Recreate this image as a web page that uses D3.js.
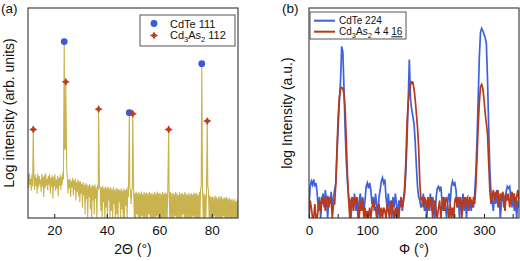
<!DOCTYPE html>
<html>
<head>
<meta charset="utf-8">
<script src="https://cdn.jsdelivr.net/npm/d3@7"></script>
<style>
  body { margin: 0; background: #fff; }
  text { font-family: "Liberation Sans", Arial, sans-serif; fill: #111; }
</style>
</head>
<body>
<svg id="chart" width="520" height="261"></svg>
<script>
// ---- (a) XRD 2theta scan, log intensity (arb. units) ----
const twoThetaStart = 10, twoThetaStep = 0.25;
const xrdBackground = [
  1.22, 0.85, 1.28, 0.95, 1.12, 0.78, 1.25, 0.90, 1.00, 1.18,   // 10.00 - 12.25
  0.80, 1.24, 0.92, 1.15, 0.70, 1.27, 0.88, 1.20, 0.95, 1.10,   // 12.50 - 14.75
  0.75, 1.26, 0.90, 1.18, 0.60, 1.22, 0.85, 1.28, 0.92, 1.12,   // 15.00 - 17.25
  0.80, 1.20, 0.95, 1.25, 0.70, 1.15, 0.88, 1.22, 0.55, 1.18,   // 17.50 - 19.75
  0.90, 1.25, 0.78, 1.10, 0.85, 1.20, 0.62, 1.15, 0.92, 1.24,   // 20.00 - 22.25
  0.80, 1.18, 0.95, 1.30, 1.10, 1.50, 1.95, 2.00, 1.70, 1.45,   // 22.50 - 24.75
  1.15, 0.70, 1.10, 0.85, 1.12, 0.60, 1.05, 0.88, 1.14, 0.65,   // 25.00 - 27.25
  1.08, 0.80, 1.12, 0.50, 1.02, 0.75, 1.10, 0.62, 1.05, 0.45,   // 27.50 - 29.75
  1.04, 0.70, 0.98, 0.30, 1.02, 0.65, 0.95, 0.10, 1.00, 0.55,   // 30.00 - 32.25
  0.96, 0.00, 0.92, 0.60, 0.98, 0.25, 0.90, 0.00, 0.95, 0.50,   // 32.50 - 34.75
  0.92, 0.10, 0.96, 0.55, 0.88, 0.00, 0.95, 0.80, 1.00, 0.85,   // 35.00 - 37.25
  0.90, 0.20, 0.88, 0.00, 0.92, 0.45, 0.85, 0.00, 0.90, 0.30,   // 37.50 - 39.75
  0.86, 0.00, 0.90, 0.50, 0.84, 0.00, 0.88, 0.20, 0.82, 0.00,   // 40.00 - 42.25
  0.88, 0.40, 0.80, 0.00, 0.86, 0.10, 0.84, 0.00, 0.82, 0.45,   // 42.50 - 44.75
  0.80, 0.00, 0.85, 0.25, 0.78, 0.00, 0.84, 0.00, 0.80, 0.35,   // 45.00 - 47.25
  0.82, 0.00, 0.88, 0.60, 0.95, 0.90, 0.80, 0.40, 0.78, 0.85,   // 47.50 - 49.75
  0.90, 0.80, 0.00, 0.72, 0.00, 0.75, 0.10, 0.70, 0.00, 0.74,   // 50.00 - 52.25
  0.00, 0.70, 0.00, 0.76, 0.05, 0.68, 0.00, 0.74, 0.00, 0.71,   // 52.50 - 54.75
  0.00, 0.73, 0.00, 0.69, 0.10, 0.75, 0.00, 0.70, 0.00, 0.72,   // 55.00 - 57.25
  0.00, 0.68, 0.00, 0.74, 0.00, 0.70, 0.05, 0.76, 0.00, 0.70,   // 57.50 - 59.75
  0.00, 0.72, 0.00, 0.68, 0.00, 0.74, 0.00, 0.70, 0.00, 0.73,   // 60.00 - 62.25
  0.00, 0.70, 0.00, 0.80, 0.85, 0.80, 0.00, 0.74, 0.00, 0.70,   // 62.50 - 64.75
  0.00, 0.72, 0.00, 0.68, 0.05, 0.74, 0.00, 0.70, 0.00, 0.66,   // 65.00 - 67.25
  0.00, 0.73, 0.00, 0.69, 0.00, 0.72, 0.10, 0.67, 0.00, 0.74,   // 67.50 - 69.75
  0.00, 0.70, 0.00, 0.66, 0.00, 0.72, 0.00, 0.68, 0.00, 0.71,   // 70.00 - 72.25
  0.00, 0.67, 0.05, 0.73, 0.00, 0.69, 0.00, 0.72, 0.00, 0.66,   // 72.50 - 74.75
  0.00, 0.74, 0.00, 0.85, 0.90, 0.95, 0.80, 0.00, 0.70, 0.00,   // 75.00 - 77.25
  0.66, 0.00, 0.75, 0.80, 0.90, 0.78, 0.00, 0.64, 0.00, 0.60,   // 77.50 - 79.75
  0.00, 0.62, 0.00, 0.58, 0.05, 0.64, 0.00, 0.60, 0.00, 0.56,   // 80.00 - 82.25
  0.00, 0.63, 0.00, 0.59, 0.00, 0.62, 0.00, 0.55, 0.05, 0.60,   // 82.50 - 84.75
  0.00, 0.57, 0.00, 0.61, 0.00, 0.54, 0.00, 0.58, 0.00, 0.52,   // 85.00 - 87.25
  0.00, 0.56, 0.00, 0.50, 0.00, 0.55, 0.00, 0.48, 0.00, 0.52,   // 87.50 - 89.75
  0.00                                                          // 90.00
];
const xrdPeaks = [[12.0, 2.53], [23.8, 5.04], [24.4, 3.89], [36.9, 3.11], [48.6, 3.01],
                  [49.9, 2.98], [63.6, 2.53], [76.2, 4.41], [78.3, 2.77]];
const cdteMarks = [[23.8, 5.04], [48.6, 3.01], [76.2, 4.41]];
const cd3as2Marks = [[12.0, 2.53], [24.4, 3.89], [36.9, 3.11], [49.9, 2.98], [63.6, 2.53], [78.3, 2.77]];
const twoThetaTicks = [20, 40, 60, 80];

// ---- (b) phi scans, log intensity (a.u.) ----
const phiStart = 0, phiStep = 2;
const phiCdTe = [
  0.3, 0.9, 1.05, 0.95, 1.1, 0.9, 1.0, 0.7, 0.2, 0.6,       // 0 - 18
  0.0, 0.5, 0.7, 0.3, 0.8, 0.5, 0.0, 0.6, 0.4, 0.75,        // 20 - 38
  0.2, 0.6, 0.8, 1.0, 1.8, 2.6, 3.3, 3.9, 4.9, 4.75,        // 40 - 58
  3.7, 2.5, 1.6, 1.0, 0.6, 0.5, 0.0, 0.6, 0.3, 0.7,         // 60 - 78
  0.2, 0.6, 0.0, 0.5, 0.7, 0.3, 0.6, 0.2, 0.5, 0.9,         // 80 - 98
  1.0, 0.85, 1.0, 0.8, 0.4, 0.6, 0.2, 0.7, 0.4, 0.0,        // 100 - 118
  0.6, 0.8, 1.05, 1.15, 1.0, 1.1, 0.6, 0.3, 0.7, 0.2,       // 120 - 138
  0.5, 0.0, 0.6, 0.3, 0.7, 0.4, 0.0, 0.5, 0.3, 0.6,         // 140 - 158
  0.2, 0.5, 0.7, 1.3, 2.2, 3.3, 4.53, 3.4, 3.1, 2.9,        // 160 - 178
  2.7, 2.2, 1.5, 0.9, 0.6, 0.5, 0.3, 0.4, 0.7, 0.2,         // 180 - 198
  0.5, 0.0, 0.6, 0.3, 0.7, 0.2, 0.6, 0.4, 0.0, 0.6,         // 200 - 218
  0.85, 0.9, 0.8, 0.9, 0.5, 0.2, 0.6, 0.3, 0.0, 0.5,        // 220 - 238
  0.7, 0.4, 0.9, 1.05, 0.95, 1.0, 0.8, 0.3, 0.6, 0.0,       // 240 - 258
  0.5, 0.3, 0.7, 0.2, 0.6, 0.0, 0.5, 0.3, 0.6, 0.2,         // 260 - 278
  0.5, 0.3, 0.7, 1.3, 2.2, 3.4, 4.6, 5.3, 5.42, 5.35,       // 280 - 298
  5.25, 5.15, 5.0, 4.0, 2.6, 1.4, 0.7, 0.5, 0.2, 0.7,       // 300 - 318
  0.4, 0.8, 0.3, 0.6, 0.0, 0.5, 0.7, 0.3, 0.6, 0.75,        // 320 - 338
  0.9, 0.85, 0.9, 0.6, 0.3, 0.7, 0.2, 0.6, 0.0, 0.5,        // 340 - 358
  0.3                                                       // 360
];
const phiCd3As2 = [
  0.0, 0.5, 0.3, 0.0, 0.0, 0.4, 0.0, 0.0, 0.3, 0.5,         // 0 - 18
  0.2, 0.6, 0.4, 0.6, 0.2, 0.55, 0.6, 0.3, 0.6, 0.5,        // 20 - 38
  0.0, 0.4, 0.4, 1.0, 2.0, 2.9, 3.45, 3.68, 3.73, 3.7,      // 40 - 58
  3.55, 3.1, 2.2, 1.2, 0.5, 0.0, 0.5, 0.6, 0.2, 0.6,        // 60 - 78
  0.4, 0.6, 0.3, 0.0, 0.5, 0.2, 0.55, 0.0, 0.3, 0.0,        // 80 - 98
  0.2, 0.0, 0.3, 0.0, 0.3, 0.5, 0.3, 0.3, 0.0, 0.3,         // 100 - 118
  0.4, 0.0, 0.3, 0.0, 0.3, 0.2, 0.0, 0.4, 0.2, 0.0,         // 120 - 138
  0.3, 0.5, 0.2, 0.0, 0.3, 0.0, 0.3, 0.0, 0.4, 0.6,         // 140 - 158
  0.3, 0.5, 0.9, 1.6, 2.7, 3.3, 3.6, 3.8, 3.89, 3.88,       // 160 - 178
  3.7, 3.4, 3.0, 2.6, 2.0, 1.0, 0.5, 0.6, 0.3, 0.6,         // 180 - 198
  0.5, 0.3, 0.6, 0.2, 0.5, 0.6, 0.0, 0.3, 0.5, 0.2,         // 200 - 218
  0.0, 0.3, 0.5, 0.0, 0.4, 0.6, 0.2, 0.5, 0.6, 0.3,         // 220 - 238
  0.0, 0.4, 0.0, 0.3, 0.0, 0.5, 0.6, 0.3, 0.6, 0.4,         // 240 - 258
  0.6, 0.0, 0.5, 0.6, 0.3, 0.55, 0.6, 0.2, 0.6, 0.5,        // 260 - 278
  0.3, 0.6, 0.4, 0.9, 1.7, 2.6, 3.3, 3.75, 3.82, 3.7,       // 280 - 298
  3.4, 3.0, 2.7, 2.4, 1.6, 0.8, 0.4, 0.6, 0.8, 0.5,         // 300 - 318
  0.75, 0.6, 0.8, 0.3, 0.7, 0.5, 0.75, 0.6, 0.2, 0.7,       // 320 - 338
  0.5, 0.7, 0.3, 0.6, 0.75, 0.5, 0.7, 0.3, 0.6, 0.8,        // 340 - 358
  0.5                                                       // 360
];
const phiTicks = [0, 100, 200, 300];
const phiMinorTicks = [50, 150, 250, 350];

const colXrd = "#c8b34e", colCdTe = "#3d62db", colCd3As2 = "#b63a1b";
const colDot = "#3a5ad8", colStar = "#bf3d1f";

const svg = d3.select("#chart");

// 4-pointed star used for the Cd3As2 reflections
const symbolStar4 = {
  draw(ctx, size) {
    const R = Math.sqrt(size) * 0.75, r = R * 0.5;
    for (let k = 0; k < 8; k++) {
      const a = k * Math.PI / 4 - Math.PI / 2, rad = k % 2 ? r : R;
      const x = Math.cos(a) * rad, y = Math.sin(a) * rad;
      k ? ctx.lineTo(x, y) : ctx.moveTo(x, y);
    }
    ctx.closePath();
  }
};

function addSub(textSel, parts) {
  // parts: [string, isSubscript]
  parts.forEach(([s, sub]) => {
    const t = textSel.append("tspan").text(s);
    if (sub) t.style("font-size", "7.5px").attr("dy", 3);
    else if (textSel.node().childNodes.length > 1) t.attr("dy", -3);
  });
}

function panel(x, y, id) {
  const [x0, x1] = x.range(), [y0, y1] = y.range();
  svg.append("clipPath").attr("id", id)
    .append("rect").attr("x", x0).attr("y", y1).attr("width", x1 - x0).attr("height", y0 - y1);
  return svg.append("g").attr("clip-path", `url(#${id})`);
}

function frame(x, y) {
  const [x0, x1] = x.range(), [y0, y1] = y.range();
  svg.append("rect").attr("x", x0).attr("y", y1).attr("width", x1 - x0).attr("height", y0 - y1)
    .attr("fill", "none").attr("stroke", "#333").attr("stroke-width", 1.1);
}

function bottomAxis(x, y, ticks) {
  const g = svg.append("g").attr("transform", `translate(0,${y.range()[0]})`)
    .call(d3.axisBottom(x).tickValues(ticks).tickSizeInner(-4).tickSizeOuter(0).tickPadding(7));
  g.select(".domain").remove();
  g.selectAll("line").attr("stroke", "#222");
  g.selectAll("text").style("font-size", "13.5px").attr("fill", "#111")
    .style("font-family", '"Liberation Sans", Arial, sans-serif');
  return g;
}

// ================= (a) =================
const xA = d3.scaleLinear().domain([10, 90]).range([28, 238]);
const yA = d3.scaleLinear().domain([0, 6]).range([218, 8]);

const xrdPoints = xrdBackground.map((v, i) => [twoThetaStart + i * twoThetaStep, v])
  .filter(([t]) => !xrdPeaks.some(([p]) => Math.abs(p - t) < 0.12))
  .concat(xrdPeaks)
  .sort((a, b) => a[0] - b[0]);

const gA = panel(xA, yA, "clipA");
gA.append("path").datum(xrdPoints)
  .attr("fill", "none").attr("stroke", colXrd).attr("stroke-width", 1.1)
  .attr("stroke-linejoin", "bevel")
  .attr("d", d3.line().x(d => xA(d[0])).y(d => yA(d[1])));

gA.selectAll(".dot").data(cdteMarks).join("circle")
  .attr("cx", d => xA(d[0])).attr("cy", d => yA(d[1])).attr("r", 3.4).attr("fill", colDot);
gA.selectAll(".star").data(cd3as2Marks).join("path")
  .attr("transform", d => `translate(${xA(d[0])},${yA(d[1])})`)
  .attr("d", d3.symbol().type(symbolStar4).size(30)).attr("fill", colStar);

frame(xA, yA);
bottomAxis(xA, yA, twoThetaTicks);

// legend (a)
svg.append("rect").attr("x", 140).attr("y", 15).attr("width", 95).attr("height", 31)
  .attr("fill", "#fff").attr("stroke", "#555").attr("stroke-width", 1);
svg.append("circle").attr("cx", 154).attr("cy", 23.5).attr("r", 3.4).attr("fill", colDot);
svg.append("path").attr("transform", "translate(154,35.5)")
  .attr("d", d3.symbol().type(symbolStar4).size(30)).attr("fill", colStar);
svg.append("text").attr("x", 170).attr("y", 27.5).style("font-size", "11px").text("CdTe 111");
addSub(svg.append("text").attr("x", 170).attr("y", 39).style("font-size", "11px"),
  [["Cd", false], ["3", true], ["As", false], ["2", true], [" 112", false]]);

svg.append("text").attr("transform", "translate(14,113) rotate(-90)").attr("text-anchor", "middle")
  .style("font-size", "14px").text("Log intensity (arb. units)");
svg.append("text").attr("x", 133).attr("y", 254).attr("text-anchor", "middle")
  .style("font-size", "14px").text("2Θ (°)");
svg.append("text").attr("x", 1).attr("y", 13).style("font-size", "13.5px").text("(a)");

// ================= (b) =================
const xB = d3.scaleLinear().domain([0, 360]).range([309, 519]);
const yB = d3.scaleLinear().domain([0, 6]).range([218, 8]);

const phiLine = d3.line().x((d, i) => xB(phiStart + i * phiStep)).y(d => yB(d));
const gB = panel(xB, yB, "clipB");
gB.append("path").datum(phiCdTe)
  .attr("fill", "none").attr("stroke", colCdTe).attr("stroke-width", 1.7).attr("d", phiLine);
gB.append("path").datum(phiCd3As2)
  .attr("fill", "none").attr("stroke", colCd3As2).attr("stroke-width", 1.7).attr("d", phiLine);

frame(xB, yB);
bottomAxis(xB, yB, phiTicks);
svg.append("g").selectAll("line").data(phiMinorTicks).join("line")
  .attr("x1", d => xB(d)).attr("x2", d => xB(d)).attr("y1", 218).attr("y2", 214)
  .attr("stroke", "#222");

// legend (b)
svg.append("rect").attr("x", 310).attr("y", 12).attr("width", 96).attr("height", 27)
  .attr("fill", "#fff").attr("stroke", "#555").attr("stroke-width", 1);
svg.append("line").attr("x1", 314).attr("x2", 335).attr("y1", 20.7).attr("y2", 20.7)
  .attr("stroke", colCdTe).attr("stroke-width", 2);
svg.append("line").attr("x1", 314).attr("x2", 335).attr("y1", 31.7).attr("y2", 31.7)
  .attr("stroke", colCd3As2).attr("stroke-width", 2);
svg.append("text").attr("x", 339).attr("y", 24.3).style("font-size", "10px").text("CdTe 224");
const lb = svg.append("text").attr("x", 339).attr("y", 35.3).style("font-size", "10px");
addSub(lb, [["Cd", false], ["3", true], ["As", false], ["2", true], [" 4 4 ", false]]);
lb.append("tspan").text("16").style("text-decoration", "underline");

svg.append("text").attr("transform", "translate(292,113) rotate(-90)").attr("text-anchor", "middle")
  .style("font-size", "14px").text("log Intensity (a.u.)");
svg.append("text").attr("x", 414).attr("y", 254).attr("text-anchor", "middle")
  .style("font-size", "14px").text("Φ (°)");
svg.append("text").attr("x", 282).attr("y", 12.5).style("font-size", "13.5px").text("(b)");
</script>
</body>
</html>
